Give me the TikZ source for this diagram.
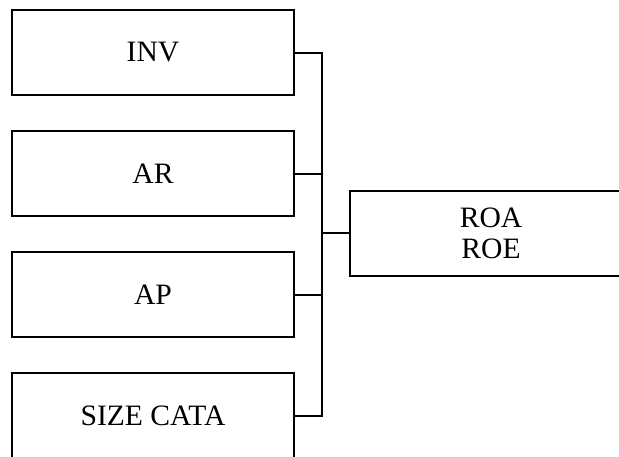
\documentclass[tikz,border=0pt]{standalone}
\usepackage{fontspec}
\setmainfont{Liberation Serif}
\usepackage{tikz}
\usetikzlibrary{calc}

\begin{document}
\begin{tikzpicture}[x=0.5pt, y=-0.5pt,
    box/.style={draw, line width=0.75pt, minimum width=141pt, minimum height=42.5pt,
      align=center, font=\fontsize{14.8}{15.5}\selectfont},
    link/.style={line width=1pt}]
    \useasboundingbox (0,0) rectangle (619,456);
    \node[box] (inv) at (153,52.5) {INV};
    \node[box] (ar) at (153,173.5) {AR};
    \node[box] (ap) at (153,294.5) {AP};
    \node[box] (size) at (153,415.5) {SIZE CATA};
    \node[box] (roa) at (491,233.5) {ROA\\ROE};
    \coordinate (hub) at (322,233);
    \draw[link] (inv.east) -| (hub);
    \draw[link] (size.east) -| (hub);
    \draw[link] (ar.east) -- (ar.east -| hub);
    \draw[link] (ap.east) -- (ap.east -| hub);
    \draw[link] (hub) -- (hub -| roa.west);
\end{tikzpicture}
\end{document}
